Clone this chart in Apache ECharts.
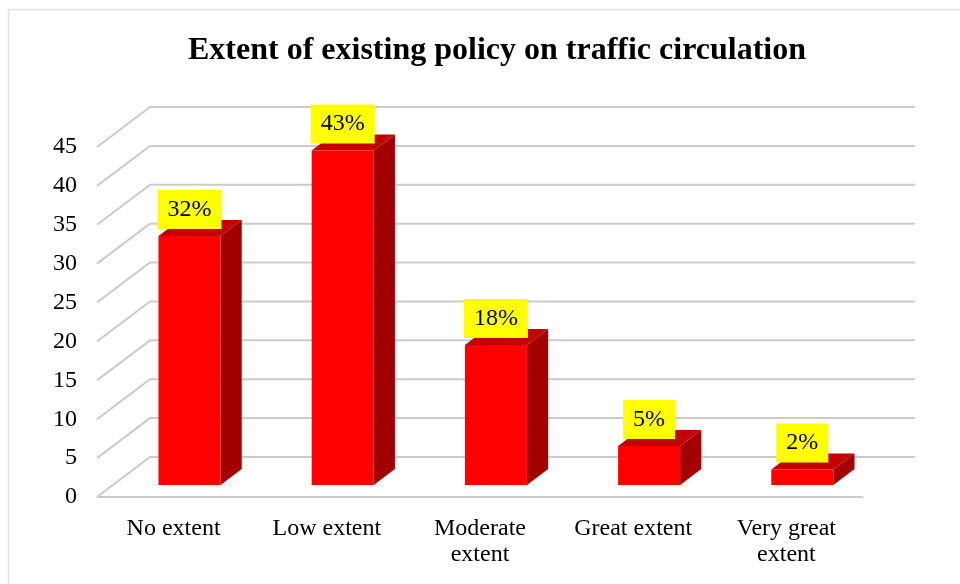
<!DOCTYPE html>
<html>
<head>
<meta charset="utf-8">
<script src="https://cdn.jsdelivr.net/npm/echarts@6/dist/echarts.min.js"></script>
<style>
html,body{margin:0;padding:0;background:#fff;}
#chart{width:960px;height:584px;}
</style>
</head>
<body>
<div id="chart"></div>
<script>
var categories = ['No extent', 'Low extent', 'Moderate\nextent', 'Great extent', 'Very great\nextent'];
var values = [32, 43, 18, 5, 2];
var yTicks = [0, 5, 10, 15, 20, 25, 30, 35, 40, 45];

var DX = 53, DY = -40;       // depth offset of the 3D box
var FONT = '"Liberation Serif", "Times New Roman", serif';

var chart = echarts.init(document.getElementById('chart'), null, {renderer: 'canvas'});

var option = {
  backgroundColor: '#ffffff',
  animation: false,
  title: {
    text: 'Extent of existing policy on traffic circulation',
    left: 492,
    textAlign: 'center',
    top: 30,
    textStyle: {fontFamily: FONT, fontWeight: 'bold', fontSize: 32, color: '#000'}
  },
  graphic: [{
    type: 'rect',
    shape: {x: 8.5, y: 9.5, width: 1200, height: 1200},
    style: {fill: 'none', stroke: '#dfe2e9', lineWidth: 1.5},
    silent: true
  }],
  grid: {left: 97, right: 97, top: 147, bottom: 87, containLabel: false},
  xAxis: {
    type: 'category',
    data: categories,
    axisLine: {show: false},
    axisTick: {show: false},
    axisLabel: {fontFamily: FONT, fontSize: 24, color: '#000', margin: 19, lineHeight: 26, interval: 0}
  },
  yAxis: {
    type: 'value',
    min: 0, max: 45, interval: 5,
    axisLine: {show: false},
    axisTick: {show: false},
    splitLine: {show: false},
    axisLabel: {fontFamily: FONT, fontSize: 24, color: '#000', margin: 20}
  },
  series: [
    {
      type: 'custom',
      name: 'walls',
      data: yTicks.map(function (v) { return [0, v]; }),
      encode: {x: 0, y: 1},
      silent: true,
      z: 1,
      renderItem: function (params, api) {
        var cs = params.coordSys;
        var v = api.value(1);
        var y = api.coord([0, v])[1];
        var x0 = cs.x, x1 = cs.x + cs.width;
        var pts = [[x0, y], [x0 + DX, y + DY], [x1 + DX - 1, y + DY]];
        var children = [{
          type: 'polyline',
          shape: {points: pts},
          style: {stroke: '#cbcbcb', lineWidth: 2, fill: null}
        }];
        if (v === 0) {
          children.push({
            type: 'line',
            shape: {x1: x0, y1: y, x2: x1, y2: y},
            style: {stroke: '#cbcbcb', lineWidth: 2}
          });
        }
        return {type: 'group', children: children};
      }
    },
    {
      type: 'custom',
      name: 'bars',
      data: values.map(function (v, i) { return [i, v]; }),
      encode: {x: 0, y: 1},
      z: 3,
      renderItem: function (params, api) {
        var idx = api.value(0), v = api.value(1);
        var base = api.coord([idx, 0]);
        var top = api.coord([idx, v]);
        var band = api.size([1, 0])[0];
        var w = band * 0.405;
        var fx = 0.3 * DX, fy = 0.3 * DY;   // front face sits 30% into the depth
        var sx = 0.4 * DX, sy = 0.4 * DY;   // bar depth
        var cx = base[0] + fx;
        var L = cx - w / 2, R = cx + w / 2;
        var B = base[1] + fy, T = top[1] + fy;
        return {
          type: 'group',
          children: [
            {type: 'polygon', shape: {points: [[R, T], [R + sx, T + sy], [R + sx, B + sy], [R, B]]},
             style: {fill: '#a20000'}},
            {type: 'polygon', shape: {points: [[L, T], [R, T], [R + sx, T + sy], [L + sx, T + sy]]},
             style: {fill: '#c40000'}},
            {type: 'rect', shape: {x: L, y: T, width: R - L, height: B - T},
             style: {fill: '#ff0000'}},
            {type: 'text', z2: 10,
             style: {
               text: v + '%', x: cx, y: T - 7,
               align: 'center', verticalAlign: 'bottom',
               font: '24px ' + FONT, fill: '#000',
               backgroundColor: '#ffff00', padding: [6, 10, 6, 10], lineHeight: 27
             }}
          ]
        };
      }
    }
  ]
};
chart.setOption(option);
</script>
</body>
</html>
